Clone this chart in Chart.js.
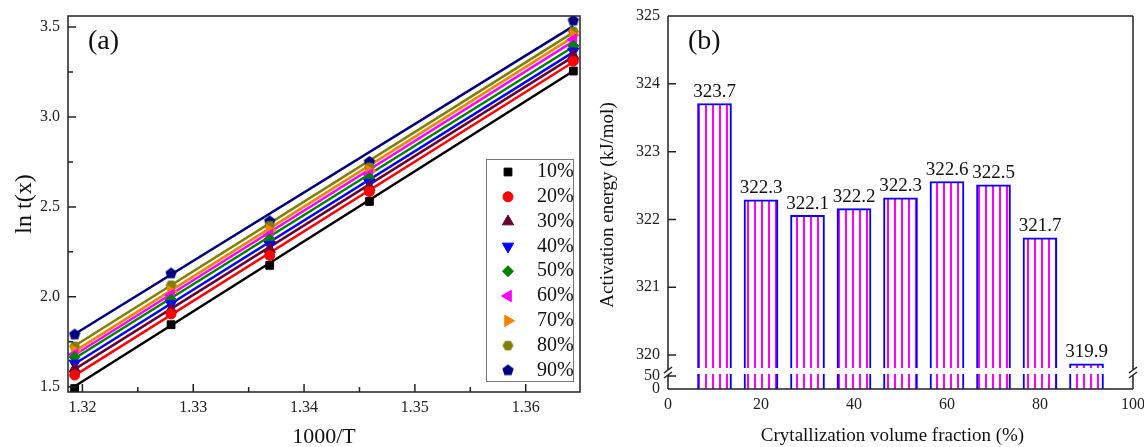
<!DOCTYPE html>
<html>
<head>
<meta charset="utf-8">
<script src="https://cdn.jsdelivr.net/npm/chart.js@4.4.0/dist/chart.umd.min.js"></script>
<style>
  html, body { margin: 0; padding: 0; background: #fff; overflow: hidden; }
  #wrap { position: relative; width: 1144px; height: 447px; }
  #chartA { position: absolute; left: 0; top: 0; }
  #chartB { position: absolute; left: 590px; top: 0; }
</style>
</head>
<body>
<div id="wrap">
  <canvas id="chartA" width="590" height="447"></canvas>
  <canvas id="chartB" width="554" height="447"></canvas>
</div>
<script>
// ---------- (a) ln t(x) vs 1000/T ----------
const invT = [1.3193, 1.3280, 1.3369, 1.3459, 1.3643];
const fractionLabels = ['10%', '20%', '30%', '40%', '50%', '60%', '70%', '80%', '90%'];

const lnT10 = [1.490, 1.845, 2.175, 2.530, 3.255];
const lnT20 = [1.565, 1.905, 2.230, 2.585, 3.310];
const lnT30 = [1.600, 1.930, 2.265, 2.610, 3.340];
const lnT40 = [1.630, 1.960, 2.290, 2.635, 3.365];
const lnT50 = [1.665, 1.985, 2.320, 2.660, 3.395];
const lnT60 = [1.680, 2.010, 2.345, 2.680, 3.430];
const lnT70 = [1.700, 2.030, 2.370, 2.700, 3.455];
const lnT80 = [1.725, 2.065, 2.395, 2.720, 3.475];
const lnT90 = [1.790, 2.130, 2.420, 2.750, 3.535];

// linear fit lines, read at both ends of the data range
const fitRange = [1.3191, 1.3643];
const fitStart = [1.495, 1.555, 1.590, 1.620, 1.650, 1.670, 1.690, 1.720, 1.785];
const fitEnd   = [3.255, 3.305, 3.335, 3.360, 3.390, 3.420, 3.445, 3.470, 3.505];

const xMajorA = [1.32, 1.33, 1.34, 1.35, 1.36];
const xMinorA = [1.325, 1.335, 1.345, 1.355];
const xLabelsA = ['1.32', '1.33', '1.34', '1.35', '1.36'];
const yMajorA = [1.5, 2.0, 2.5, 3.0, 3.5];
const yMinorA = [1.75, 2.25, 2.75, 3.25];
const yLabelsA = ['1.5', '2.0', '2.5', '3.0', '3.5'];

// ---------- (b) activation energy ----------
const crystFraction = [10, 20, 30, 40, 50, 60, 70, 80, 90];
const activationEnergy = [323.71, 322.29, 322.06, 322.16, 322.32, 322.56, 322.51, 321.73, 319.87];
const barLabels = ['323.7', '322.3', '322.1', '322.2', '322.3', '322.6', '322.5', '321.7', '319.9'];
const xTicksB = [0, 20, 40, 60, 80, 100];
const yTopTicksB = [320, 321, 322, 323, 324, 325];
const yLowTicksB = [0, 50];

const SERIF = '"Liberation Serif", "Times New Roman", Times, serif';
Chart.defaults.font.family = SERIF;
Chart.defaults.color = '#111';

const seriesColors = ['#000000', '#ff0000', '#660033', '#0000ff', '#008000',
                      '#ff00ff', '#ff8000', '#808000', '#000080'];

function polygonMarker(sides, r, color, start) {
  const c = document.createElement('canvas');
  const s = Math.ceil(2 * r + 2);
  c.width = s; c.height = s;
  const g = c.getContext('2d');
  g.fillStyle = color;
  g.beginPath();
  for (let k = 0; k < sides; k++) {
    const ang = start + k * 2 * Math.PI / sides;
    const px = s / 2 + r * Math.cos(ang), py = s / 2 + r * Math.sin(ang);
    if (k) g.lineTo(px, py); else g.moveTo(px, py);
  }
  g.closePath();
  g.fill();
  return c;
}

const markers = [
  { style: 'rect', rot: 0, r: 5.5 },
  { style: 'circle', rot: 0, r: 5 },
  { style: 'triangle', rot: 0, r: 6.5 },
  { style: 'triangle', rot: 180, r: 6.5 },
  { style: 'rectRot', rot: 0, r: 5.5 },
  { style: 'triangle', rot: -90, r: 6.5 },
  { style: 'triangle', rot: 90, r: 6.5 },
  { style: polygonMarker(6, 5.5, seriesColors[7], 0), rot: 0, r: 5.5 },
  { style: polygonMarker(5, 6, seriesColors[8], -Math.PI / 2), rot: 0, r: 6 }
];

const near = (p, q) => Math.abs(p - q) < 1e-9;
const labelFor = (v, vals, labels) => {
  const k = vals.findIndex(m => near(m, v));
  return k < 0 ? '' : labels[k];
};
const tickFont = { family: SERIF, size: 16 };

/* =============================
 * (a) 散布図 + 近似直線
 * ===========================*/
const lnSeries = [lnT10, lnT20, lnT30, lnT40, lnT50, lnT60, lnT70, lnT80, lnT90];
const datasetsA = [];
lnSeries.forEach((vals, i) => {
  datasetsA.push({
    label: fractionLabels[i],
    data: vals.map((v, j) => ({ x: invT[j], y: v })),
    showLine: false,
    pointStyle: markers[i].style,
    pointRotation: markers[i].rot,
    pointRadius: markers[i].r,
    backgroundColor: seriesColors[i],
    borderColor: seriesColors[i],
    borderWidth: 1,
    order: 0
  });
});
lnSeries.forEach((vals, i) => {
  datasetsA.push({
    label: fractionLabels[i] + ' fit',
    data: [{ x: fitRange[0], y: fitStart[i] }, { x: fitRange[1], y: fitEnd[i] }],
    showLine: true,
    fill: false,
    pointRadius: 0,
    borderColor: seriesColors[i],
    borderWidth: 2.5,
    order: 1
  });
});

const frameA = {
  id: 'frameA',
  afterDraw(chart) {
    const { ctx, chartArea: a, scales: { x, y } } = chart;
    ctx.save();
    ctx.strokeStyle = '#222';
    ctx.lineWidth = 1.5;
    ctx.strokeRect(a.left, a.top, a.right - a.left, a.bottom - a.top);

    // 内向きの目盛り
    ctx.beginPath();
    x.ticks.forEach(t => {
      const px = x.getPixelForValue(t.value);
      const len = xMajorA.some(m => near(m, t.value)) ? 8 : 5;
      ctx.moveTo(px, a.bottom); ctx.lineTo(px, a.bottom - len);
    });
    y.ticks.forEach(t => {
      const py = y.getPixelForValue(t.value);
      const len = yMajorA.some(m => near(m, t.value)) ? 8 : 5;
      ctx.moveTo(a.left, py); ctx.lineTo(a.left + len, py);
    });
    ctx.stroke();

    // 凡例
    const lx = a.right - 94, ly = a.top + 143, lw = 87, lh = 222;
    ctx.fillStyle = '#fff';
    ctx.fillRect(lx, ly, lw, lh);
    ctx.strokeStyle = '#777';
    ctx.lineWidth = 1;
    ctx.strokeRect(lx + 0.5, ly + 0.5, lw, lh);
    ctx.font = '20px ' + SERIF;
    ctx.textAlign = 'left';
    ctx.textBaseline = 'middle';
    fractionLabels.forEach((lab, i) => {
      const cy = ly + 13 + i * 24.8;
      ctx.fillStyle = seriesColors[i];
      ctx.strokeStyle = seriesColors[i];
      if (Chart.helpers && Chart.helpers.drawPoint) {
        Chart.helpers.drawPoint(ctx, {
          pointStyle: markers[i].style, rotation: markers[i].rot,
          radius: markers[i].r, borderWidth: 1
        }, lx + 22, cy);
      }
      ctx.fillStyle = '#111';
      ctx.fillText(lab, lx + 51, cy);
    });

    ctx.font = '28px ' + SERIF;
    ctx.fillStyle = '#111';
    ctx.fillText('(a)', a.left + 20, a.top + 26);
    ctx.restore();
  }
};

new Chart(document.getElementById('chartA'), {
  type: 'scatter',
  data: { datasets: datasetsA },
  options: {
    responsive: false,
    animation: false,
    layout: { padding: { left: 0, right: 10, top: 16, bottom: 0 } },
    plugins: { legend: { display: false }, tooltip: { enabled: false } },
    scales: {
      x: {
        type: 'linear', min: 1.3187, max: 1.3649,
        grid: { display: false, drawTicks: false },
        border: { display: false },
        afterBuildTicks: s => {
          s.ticks = [...xMajorA, ...xMinorA].sort((p, q) => p - q).map(v => ({ value: v }));
        },
        ticks: {
          autoSkip: false, maxRotation: 0, padding: 6, color: '#222', font: tickFont,
          callback: v => labelFor(v, xMajorA, xLabelsA)
        },
        title: {
          display: true, text: '1000/T', color: '#111',
          font: { family: SERIF, size: 22, lineHeight: 0.9 }, padding: 0
        },
        afterFit: s => { s.height = 55; s.paddingLeft = 0; s.paddingRight = 0; }
      },
      y: {
        type: 'linear', min: 1.471, max: 3.561,
        grid: { display: false, drawTicks: false },
        border: { display: false },
        afterBuildTicks: s => {
          s.ticks = [...yMajorA, ...yMinorA].sort((p, q) => p - q).map(v => ({ value: v }));
        },
        ticks: {
          autoSkip: false, padding: 8, color: '#222', font: tickFont,
          callback: v => labelFor(v, yMajorA, yLabelsA)
        },
        title: {
          display: true, text: 'ln t(x)', color: '#111',
          font: { family: SERIF, size: 24 }, padding: { top: 10, bottom: 0 }
        },
        afterFit: s => { s.width = 68; s.paddingTop = 0; s.paddingBottom = 0; }
      }
    }
  },
  plugins: [frameA]
});

/* =============================
 * (b) 棒グラフ（縦軸の省略あり）
 * ===========================*/
const canvasB = document.getElementById('chartB');
function stripePattern(ctx) {
  const c = document.createElement('canvas');
  c.width = 7; c.height = 4;
  const g = c.getContext('2d');
  g.fillStyle = '#fff';
  g.fillRect(0, 0, 7, 4);
  g.fillStyle = '#ff00ff';
  g.fillRect(3, 0, 2, 4);
  return ctx.createPattern(c, 'repeat');
}
const stripes = stripePattern(canvasB.getContext('2d'));

const barPoints = crystFraction.map((f, i) => ({ x: f, y: activationEnergy[i] }));
const barStyle = {
  backgroundColor: stripes,
  borderColor: '#0000ff',
  borderWidth: 2,
  barThickness: 34,
  grouped: false
};

// 下段の軸に載るバー部分はその軸の範囲だけに切り取る
const clipLow = {
  id: 'clipLow',
  beforeDatasetDraw(chart, args) {
    if (args.meta.yAxisID !== 'yLow') return;
    const s = chart.scales.yLow, a = chart.chartArea;
    chart.ctx.save();
    chart.ctx.beginPath();
    chart.ctx.rect(a.left, s.top, a.right - a.left, s.bottom - s.top);
    chart.ctx.clip();
  },
  afterDatasetDraw(chart, args) {
    if (args.meta.yAxisID !== 'yLow') return;
    chart.ctx.restore();
  }
};

const frameB = {
  id: 'frameB',
  afterDatasetsDraw(chart) {
    const { ctx, chartArea: a, scales } = chart;
    const yT = scales.yTop, yL = scales.yLow;
    const gapTop = yT.bottom, gapBot = yT.bottom + 6;
    ctx.save();
    ctx.fillStyle = '#fff';
    ctx.fillRect(a.left + 1, gapTop, a.right - a.left - 2, gapBot - gapTop);

    ctx.strokeStyle = '#222';
    ctx.lineWidth = 1.5;
    ctx.beginPath();
    ctx.moveTo(a.left, a.top); ctx.lineTo(a.right, a.top);
    ctx.moveTo(a.left, a.bottom); ctx.lineTo(a.right, a.bottom);
    [a.left, a.right].forEach(xx => {
      ctx.moveTo(xx, a.top); ctx.lineTo(xx, gapTop + 2);
      ctx.moveTo(xx, gapBot + 1); ctx.lineTo(xx, a.bottom);
      ctx.moveTo(xx - 4, gapTop + 5); ctx.lineTo(xx + 4, gapTop - 1);
      ctx.moveTo(xx - 4, gapBot + 4); ctx.lineTo(xx + 4, gapBot - 2);
    });
    yT.ticks.forEach(t => {
      const py = yT.getPixelForValue(t.value);
      ctx.moveTo(a.left, py); ctx.lineTo(a.left + 8, py);
    });
    yL.ticks.forEach(t => {
      const py = yL.getPixelForValue(t.value);
      ctx.moveTo(a.left, py); ctx.lineTo(a.left + 8, py);
    });
    ctx.stroke();

    // 棒の上の数値
    ctx.fillStyle = '#111';
    ctx.font = '19px ' + SERIF;
    ctx.textAlign = 'center';
    ctx.textBaseline = 'alphabetic';
    chart.getDatasetMeta(0).data.forEach((el, i) => {
      ctx.fillText(barLabels[i], el.x, el.y - 6.5);
    });

    ctx.textAlign = 'left';
    ctx.textBaseline = 'middle';
    ctx.font = '28px ' + SERIF;
    ctx.fillText('(b)', a.left + 20, a.top + 26);

    ctx.font = '19px ' + SERIF;
    ctx.textAlign = 'center';
    ctx.textBaseline = 'alphabetic';
    ctx.fillText('Crytallization volume fraction (%)', (a.left + a.right) / 2 - 8, 441);

    ctx.translate(18, 205);
    ctx.rotate(-Math.PI / 2);
    ctx.textBaseline = 'middle';
    ctx.fillText('Activation energy (kJ/mol)', 0, 0);
    ctx.restore();
  }
};

new Chart(canvasB, {
  type: 'bar',
  data: {
    datasets: [
      Object.assign({ label: 'Ea', data: barPoints, yAxisID: 'yTop' }, barStyle),
      Object.assign({ label: 'Ea (low)', data: barPoints, yAxisID: 'yLow' }, barStyle)
    ]
  },
  options: {
    responsive: false,
    animation: false,
    layout: { padding: { left: 0, right: 11, top: 16, bottom: 0 } },
    plugins: { legend: { display: false }, tooltip: { enabled: false } },
    scales: {
      x: {
        type: 'linear', min: 0, max: 100, offset: false,
        grid: { display: false, drawTicks: false },
        border: { display: false },
        afterBuildTicks: s => { s.ticks = xTicksB.map(v => ({ value: v })); },
        ticks: { autoSkip: false, maxRotation: 0, padding: 6, color: '#222', font: tickFont,
                 callback: v => String(v) },
        afterFit: s => { s.height = 58; s.paddingLeft = 0; s.paddingRight = 0; }
      },
      yLow: {
        type: 'linear', position: 'left', stack: 'energy', stackWeight: 21,
        min: 0, max: 80,
        grid: { display: false, drawTicks: false },
        border: { display: false },
        afterBuildTicks: s => { s.ticks = yLowTicksB.map(v => ({ value: v })); },
        ticks: { autoSkip: false, padding: 8, color: '#222', font: tickFont,
                 callback: v => String(v) },
        afterFit: s => { s.width = 78; s.paddingTop = 0; s.paddingBottom = 0; }
      },
      yTop: {
        type: 'linear', position: 'left', stack: 'energy', stackWeight: 352,
        min: 319.81, max: 325,
        grid: { display: false, drawTicks: false },
        border: { display: false },
        afterBuildTicks: s => { s.ticks = yTopTicksB.map(v => ({ value: v })); },
        ticks: { autoSkip: false, padding: 8, color: '#222', font: tickFont,
                 callback: v => String(v) },
        afterFit: s => { s.width = 78; s.paddingTop = 0; s.paddingBottom = 0; }
      }
    }
  },
  plugins: [clipLow, frameB]
});
</script>
</body>
</html>
